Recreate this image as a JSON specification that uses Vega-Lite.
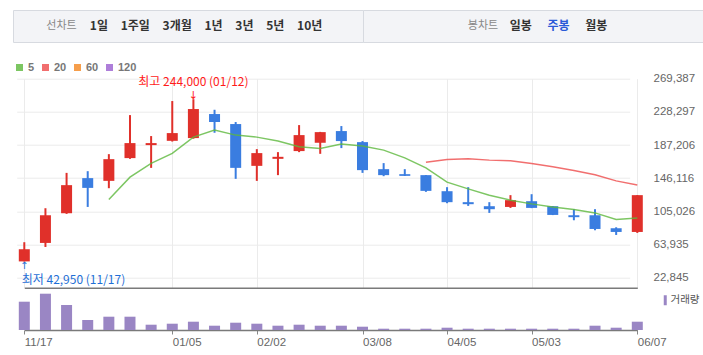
{
  "$schema": "https://vega.github.io/schema/vega-lite/v6.json",
  "padding": {"left": 12, "top": 9, "right": 0, "bottom": 0},
  "autosize": {"type": "pad"},
  "bounds": "flush",
  "spacing": 68.7,
  "config": {
    "view": {"stroke": null},
    "font": "Noto Sans CJK KR",
    "axisY": {"labelOverlap": false, "labelSeparation": 0, "labelBound": false}
  },
  "datasets": {
    "weeks": [
      {"date": "11/17", "open": 43000, "high": 66800, "low": 42950, "close": 58100, "volume": 2830000},
      {"date": "11/24", "open": 65900, "high": 108900, "low": 60900, "close": 100200, "volume": 3630000},
      {"date": "12/01", "open": 102700, "high": 152700, "low": 101900, "close": 137500, "volume": 2500000},
      {"date": "12/08", "open": 146200, "high": 154800, "low": 110500, "close": 134100, "volume": 1000000},
      {"date": "12/15", "open": 142800, "high": 175900, "low": 133700, "close": 169700, "volume": 1330000, "ma5": 119700},
      {"date": "12/22", "open": 171000, "high": 224300, "low": 170100, "close": 189600, "volume": 1330000, "ma5": 147400},
      {"date": "12/29", "open": 187100, "high": 198300, "low": 158900, "close": 189600, "volume": 530000, "ma5": 164400},
      {"date": "01/05", "open": 192400, "high": 241700, "low": 191500, "close": 202000, "volume": 630000, "ma5": 176800},
      {"date": "01/12", "open": 195800, "high": 244000, "low": 195000, "close": 231800, "volume": 830000, "ma5": 197000},
      {"date": "01/19", "open": 225600, "high": 230900, "low": 202400, "close": 215700, "volume": 430000, "ma5": 205700},
      {"date": "01/26", "open": 213200, "high": 215700, "low": 145300, "close": 158900, "volume": 730000, "ma5": 199500},
      {"date": "02/02", "open": 161400, "high": 182100, "low": 142800, "close": 177200, "volume": 630000, "ma5": 197000},
      {"date": "02/09", "open": 170100, "high": 178400, "low": 149900, "close": 172600, "volume": 430000, "ma5": 192100},
      {"date": "02/16", "open": 179700, "high": 211900, "low": 178400, "close": 199500, "volume": 530000, "ma5": 185000},
      {"date": "02/23", "open": 190000, "high": 203500, "low": 176300, "close": 203200, "volume": 430000, "ma5": 183000},
      {"date": "03/02", "open": 204500, "high": 210700, "low": 183400, "close": 192100, "volume": 430000, "ma5": 188400},
      {"date": "03/08", "open": 190800, "high": 192100, "low": 152700, "close": 156100, "volume": 330000, "ma5": 185900},
      {"date": "03/15", "open": 157300, "high": 164800, "low": 148600, "close": 149900, "volume": 130000, "ma5": 180900},
      {"date": "03/22", "open": 151100, "high": 157300, "low": 148800, "close": 149000, "volume": 130000, "ma5": 171300},
      {"date": "03/29", "open": 149900, "high": 150000, "low": 129200, "close": 130400, "volume": 130000, "ma5": 158900, "ma20": 166000},
      {"date": "04/05", "open": 130000, "high": 135000, "low": 115100, "close": 116400, "volume": 230000, "ma5": 141200, "ma20": 169400},
      {"date": "04/12", "open": 116400, "high": 135000, "low": 111800, "close": 113900, "volume": 130000, "ma5": 132900, "ma20": 170100},
      {"date": "04/19", "open": 111400, "high": 116400, "low": 103100, "close": 107700, "volume": 130000, "ma5": 125100, "ma20": 168500},
      {"date": "04/26", "open": 110500, "high": 125100, "low": 109300, "close": 118900, "volume": 130000, "ma5": 118900, "ma20": 167600},
      {"date": "05/03", "open": 117600, "high": 126300, "low": 109000, "close": 109300, "volume": 130000, "ma5": 114300, "ma20": 164400},
      {"date": "05/10", "open": 111400, "high": 111600, "low": 100400, "close": 100600, "volume": 130000, "ma5": 110500, "ma20": 160200},
      {"date": "05/17", "open": 100200, "high": 107700, "low": 94000, "close": 97800, "volume": 130000, "ma5": 107300, "ma20": 155700},
      {"date": "05/24", "open": 100200, "high": 107700, "low": 81600, "close": 83200, "volume": 430000, "ma5": 103100, "ma20": 150300},
      {"date": "05/31", "open": 84100, "high": 85300, "low": 75800, "close": 79500, "volume": 230000, "ma5": 94900, "ma20": 142800},
      {"date": "06/07", "open": 79500, "high": 125100, "low": 78300, "close": 125100, "volume": 830000, "ma5": 96900, "ma20": 137800}
    ],
    "menuLine": [
      {"item": "선차트", "role": "label"},
      {"item": "1일\u2003\u200a1주일\u2003\u200a3개월\u2003\u200a1년\u2003\u200a3년\u2003\u200a5년\u2003\u200a10년", "role": "periods"}
    ],
    "menuCandle": [
      {"item": "봉차트", "role": "label"},
      {"item": "일봉", "role": "button"},
      {"item": "주봉", "role": "button"},
      {"item": "월봉", "role": "button"}
    ]
  },
  "resolve": {"scale": {"x": "independent", "y": "independent"}},
  "vconcat": [
    {
      "hconcat": [
        {
          "width": 350,
          "height": 32,
          "view": {"fill": "#f3f4f7", "stroke": "#d7dae0"},
          "data": {"name": "menuLine"},
          "layer": [
            {
              "mark": {"type": "text", "align": "center", "baseline": "middle", "fontSize": 11, "color": "#888888"},
              "encoding": {
                "x": {"field": "item", "type": "nominal", "sort": null, "scale": {"type": "point", "padding": 0, "range": [48.5, 76.8]}, "axis": null},
                "text": {"condition": {"test": "datum.role === 'label'", "field": "item"}, "value": ""}
              }
            },
            {
              "mark": {"type": "text", "align": "left", "baseline": "middle", "fontSize": 12, "fontWeight": "bold", "color": "#333333"},
              "encoding": {
                "x": {"field": "item", "type": "nominal", "sort": null, "scale": {"type": "point", "padding": 0, "range": [48.5, 76.8]}, "axis": null},
                "text": {"condition": {"test": "datum.role === 'periods'", "field": "item"}, "value": ""}
              }
            }
          ]
        },
        {
          "width": 341,
          "height": 32,
          "view": {"fill": "#f3f4f7", "stroke": "#d7dae0"},
          "data": {"name": "menuCandle"},
          "layer": [
            {
              "mark": {"type": "text", "align": "center", "baseline": "middle", "fontSize": 11, "color": "#888888"},
              "encoding": {
                "x": {"field": "item", "type": "nominal", "sort": null, "scale": {"type": "point", "padding": 0, "range": [120, 233.3]}, "axis": null},
                "text": {"condition": {"test": "datum.role === 'label'", "field": "item"}, "value": ""}
              }
            },
            {
              "mark": {"type": "text", "align": "center", "baseline": "middle", "fontSize": 12, "fontWeight": "bold"},
              "encoding": {
                "x": {"field": "item", "type": "nominal", "sort": null, "scale": {"type": "point", "padding": 0, "range": [120, 233.3]}, "axis": null},
                "text": {"condition": {"test": "datum.role === 'button'", "field": "item"}, "value": ""},
                "color": {"condition": {"test": "datum.item === '주봉'", "value": "#2a5bd7"}, "value": "#333333"}
              }
            }
          ]
        }
      ],
      "spacing": 0,
      "bounds": "flush",
      "resolve": {"scale": {"x": "independent"}}
    },
    {
      "vconcat": [
        {
          "width": 628,
          "height": 209,
          "data": {"name": "weeks"},
          "encoding": {
            "x": {"field": "date", "type": "ordinal", "sort": null, "scale": {"type": "point", "padding": 0, "range": [11.3, 624.3]},
              "axis": {"values": ["11/17", "01/05", "02/02", "03/08", "04/05", "05/03", "06/07"], "labels": false, "ticks": false, "grid": true, "gridColor": "#ebebeb", "gridWidth": 1, "domain": true, "domainColor": "#7a7a7a", "domainWidth": 1.5, "title": null}}
          },
          "layer": [
            {
              "mark": {"type": "rule", "strokeWidth": 2},
              "encoding": {
                "y": {"field": "low", "type": "quantitative", "scale": {"domain": [10432, 269387], "nice": false, "zero": false},
                  "axis": {"orient": "right", "values": [22845, 63935, 105026, 146116, 187206, 228297, 269387], "format": ",d", "labelOverlap": false, "grid": true, "gridColor": "#ebebeb", "gridWidth": 1, "domain": false, "ticks": false, "labelPadding": 12, "labelColor": "#666666", "labelFont": "Liberation Sans", "labelFontSize": 11.5, "title": null}},
                "y2": {"field": "high"},
                "color": {"condition": {"test": "datum.close >= datum.open", "value": "#e0302a"}, "value": "#3a7de0"}
              }
            },
            {
              "mark": {"type": "bar", "size": 11},
              "encoding": {
                "y": {"field": "open", "type": "quantitative", "scale": {"domain": [10432, 269387], "nice": false, "zero": false},
                  "axis": {"orient": "right", "values": [22845, 63935, 105026, 146116, 187206, 228297, 269387], "format": ",d", "labelOverlap": false, "grid": true, "gridColor": "#ebebeb", "gridWidth": 1, "domain": false, "ticks": false, "labelPadding": 12, "labelColor": "#666666", "labelFont": "Liberation Sans", "labelFontSize": 11.5, "title": null}},
                "y2": {"field": "close"},
                "color": {"condition": {"test": "datum.close >= datum.open", "value": "#e0302a"}, "value": "#3a7de0"}
              }
            },
            {
              "mark": {"type": "line", "strokeWidth": 1.5, "opacity": 0.8},
              "encoding": {
                "y": {"field": "ma5", "type": "quantitative", "scale": {"domain": [10432, 269387], "nice": false, "zero": false},
                  "axis": {"orient": "right", "values": [22845, 63935, 105026, 146116, 187206, 228297, 269387], "format": ",d", "labelOverlap": false, "grid": true, "gridColor": "#ebebeb", "gridWidth": 1, "domain": false, "ticks": false, "labelPadding": 12, "labelColor": "#666666", "labelFont": "Liberation Sans", "labelFontSize": 11.5, "title": null}},
                "color": {"datum": "5", "type": "nominal",
                  "scale": {"domain": ["5", "20", "60", "120"], "range": ["#5cb83c", "#ee4b4b", "#f5861f", "#9b5fd0"]},
                  "legend": {"orient": "none", "legendX": 1, "legendY": 52, "direction": "horizontal", "title": null, "symbolType": "square", "symbolSize": 9, "symbolStrokeWidth": 4, "symbolOpacity": 1, "labelFont": "Liberation Sans", "labelFontSize": 11, "labelFontWeight": "bold", "labelColor": "#777777", "labelOffset": 3, "columnPadding": 1, "padding": 0}}
              }
            },
            {
              "mark": {"type": "line", "strokeWidth": 1.5, "opacity": 0.8},
              "encoding": {
                "y": {"field": "ma20", "type": "quantitative", "scale": {"domain": [10432, 269387], "nice": false, "zero": false},
                  "axis": {"orient": "right", "values": [22845, 63935, 105026, 146116, 187206, 228297, 269387], "format": ",d", "labelOverlap": false, "grid": true, "gridColor": "#ebebeb", "gridWidth": 1, "domain": false, "ticks": false, "labelPadding": 12, "labelColor": "#666666", "labelFont": "Liberation Sans", "labelFontSize": 11.5, "title": null}},
                "color": {"datum": "20", "type": "nominal",
                  "scale": {"domain": ["5", "20", "60", "120"], "range": ["#5cb83c", "#ee4b4b", "#f5861f", "#9b5fd0"]}}
              }
            },
            {
              "mark": {"type": "text", "align": "center", "baseline": "middle", "dy": -16.7, "fontSize": 12, "color": "#ff1a1a"},
              "encoding": {
                "y": {"field": "high", "type": "quantitative", "scale": {"domain": [10432, 269387], "nice": false, "zero": false},
                  "axis": {"orient": "right", "values": [22845, 63935, 105026, 146116, 187206, 228297, 269387], "format": ",d", "labelOverlap": false, "grid": true, "gridColor": "#ebebeb", "gridWidth": 1, "domain": false, "ticks": false, "labelPadding": 12, "labelColor": "#666666", "labelFont": "Liberation Sans", "labelFontSize": 11.5, "title": null}},
                "text": {"condition": {"test": "datum.date === '01/12'", "value": "최고 244,000 (01/12)"}, "value": ""}
              }
            },
            {
              "mark": {"type": "text", "align": "center", "baseline": "bottom", "dy": 2, "fontSize": 11, "font": "DejaVu Sans", "color": "#ff1a1a"},
              "encoding": {
                "y": {"field": "high", "type": "quantitative", "scale": {"domain": [10432, 269387], "nice": false, "zero": false},
                  "axis": {"orient": "right", "values": [22845, 63935, 105026, 146116, 187206, 228297, 269387], "format": ",d", "labelOverlap": false, "grid": true, "gridColor": "#ebebeb", "gridWidth": 1, "domain": false, "ticks": false, "labelPadding": 12, "labelColor": "#666666", "labelFont": "Liberation Sans", "labelFontSize": 11.5, "title": null}},
                "text": {"condition": {"test": "datum.date === '01/12'", "value": "↓"}, "value": ""}
              }
            },
            {
              "mark": {"type": "text", "align": "left", "baseline": "middle", "dx": -2.6, "dy": 18.5, "fontSize": 12, "color": "#1f6fd6"},
              "encoding": {
                "y": {"field": "low", "type": "quantitative", "scale": {"domain": [10432, 269387], "nice": false, "zero": false},
                  "axis": {"orient": "right", "values": [22845, 63935, 105026, 146116, 187206, 228297, 269387], "format": ",d", "labelOverlap": false, "grid": true, "gridColor": "#ebebeb", "gridWidth": 1, "domain": false, "ticks": false, "labelPadding": 12, "labelColor": "#666666", "labelFont": "Liberation Sans", "labelFontSize": 11.5, "title": null}},
                "text": {"condition": {"test": "datum.date === '11/17'", "value": "최저 42,950 (11/17)"}, "value": ""}
              }
            },
            {
              "mark": {"type": "text", "align": "center", "baseline": "top", "dy": 0, "fontSize": 10, "font": "DejaVu Sans", "color": "#1f6fd6"},
              "encoding": {
                "y": {"field": "low", "type": "quantitative", "scale": {"domain": [10432, 269387], "nice": false, "zero": false},
                  "axis": {"orient": "right", "values": [22845, 63935, 105026, 146116, 187206, 228297, 269387], "format": ",d", "labelOverlap": false, "grid": true, "gridColor": "#ebebeb", "gridWidth": 1, "domain": false, "ticks": false, "labelPadding": 12, "labelColor": "#666666", "labelFont": "Liberation Sans", "labelFontSize": 11.5, "title": null}},
                "text": {"condition": {"test": "datum.date === '11/17'", "value": "↑"}, "value": ""}
              }
            }
          ]
        },
        {
          "width": 628,
          "height": 42.3,
          "data": {"name": "weeks"},
          "mark": {"type": "bar", "size": 11},
          "encoding": {
            "x": {"field": "date", "type": "ordinal", "sort": null, "scale": {"type": "point", "padding": 0, "range": [11.3, 624.3]},
              "axis": {"values": ["11/17", "01/05", "02/02", "03/08", "04/05", "05/03", "06/07"], "labelAlign": "left", "labelPadding": 2, "labelOverlap": false, "tickSize": 4, "tickColor": "#888888", "domainColor": "#7a7a7a", "domainWidth": 1.5, "grid": false, "labelColor": "#666666", "labelFont": "Liberation Sans", "labelFontSize": 11.5, "labelAngle": 0, "title": null}},
            "y": {"field": "volume", "type": "quantitative", "scale": {"domain": [0, 4230000], "nice": false}, "axis": null},
            "fill": {"datum": "거래량", "type": "nominal", "scale": {"range": ["#9a86c4"]},
              "legend": {"orient": "none", "legendX": 647, "legendY": 285, "title": null, "symbolType": "M-0.3,-1H0.3V1H-0.3Z", "symbolSize": 100, "symbolStrokeWidth": 0, "labelFont": "Noto Sans CJK KR", "labelFontSize": 10.5, "labelColor": "#555555", "labelOffset": 0, "padding": 0}}
          }
        }
      ],
      "spacing": 0,
      "bounds": "flush",
      "resolve": {"scale": {"x": "independent", "y": "independent"}}
    }
  ]
}
